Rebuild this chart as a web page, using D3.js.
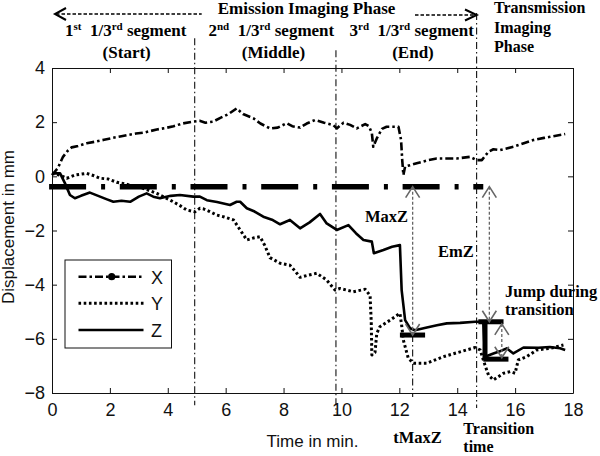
<!DOCTYPE html>
<html><head><meta charset="utf-8">
<script src="https://cdn.jsdelivr.net/npm/d3@7"></script>
<style>body{margin:0;background:#fff}svg{display:block}</style>
</head><body><svg id="c" width="600" height="456"></svg>
<script>
// ---- data (time in min, displacement in mm) ----
const seriesNames = ["X", "Y", "Z"];
const xSeries = [[0,0.05],[0.2,0.3],[0.38,0.72],[0.55,0.95],[0.68,1.07],[0.9,1.12],[1.2,1.22],[1.5,1.28],[1.8,1.35],[2.1,1.42],[2.4,1.48],[2.58,1.52],[2.9,1.58],[3.2,1.62],[3.62,1.73],[3.9,1.78],[4.2,1.85],[4.5,1.95],[4.88,2.02],[5.1,2.05],[5.3,1.98],[5.57,2.02],[5.8,2.15],[6.1,2.3],[6.38,2.51],[6.6,2.3],[6.96,2.14],[7.2,1.95],[7.53,1.77],[7.8,1.8],[8.11,1.96],[8.3,1.85],[8.57,1.8],[8.8,1.95],[9.09,2.08],[9.4,1.98],[9.72,1.89],[9.84,1.77],[10.07,1.98],[10.3,1.9],[10.53,1.77],[10.82,1.93],[10.95,1.85],[11.05,1.6],[11.1,1.09],[11.22,1.4],[11.4,1.75],[11.56,1.83],[11.97,1.83],[12.06,1.34],[12.1,0.6],[12.14,0.05],[12.2,0.36],[12.6,0.48],[13.0,0.6],[13.29,0.66],[13.98,0.66],[14.44,0.72],[14.67,0.6],[14.85,0.6],[15.08,0.91],[15.25,1.0],[15.48,0.97],[15.94,1.09],[16.3,1.22],[16.63,1.34],[17.0,1.42],[17.21,1.46],[17.73,1.56]];
const ySeries = [[0,0.11],[0.25,0.05],[0.51,-0.07],[0.8,0.05],[1.2,0.11],[1.45,0.02],[1.66,-0.07],[1.95,-0.1],[2.24,-0.22],[2.6,-0.3],[3.04,-0.4],[3.3,-0.5],[3.62,-0.63],[3.9,-0.78],[4.19,-0.94],[4.45,-1.1],[4.65,-1.24],[4.94,-1.31],[5.11,-1.18],[5.23,-1.2],[5.45,-1.3],[5.69,-1.43],[5.95,-1.5],[6.27,-1.61],[6.45,-1.9],[6.73,-2.35],[6.95,-2.28],[7.19,-2.23],[7.35,-2.55],[7.53,-3.0],[7.88,-3.21],[8.22,-3.28],[8.4,-3.5],[8.57,-3.73],[8.85,-3.65],[9.15,-3.58],[9.49,-3.83],[9.78,-4.2],[9.95,-4.14],[10.41,-4.26],[10.82,-4.17],[10.99,-4.4],[11.03,-5.4],[11.05,-6.6],[11.16,-6.5],[11.22,-5.8],[11.33,-5.55],[11.68,-5.31],[12.02,-5.06],[12.08,-5.5],[12.14,-6.05],[12.31,-6.72],[12.49,-6.9],[12.95,-6.9],[13.52,-6.66],[14.1,-6.48],[14.62,-6.32],[14.79,-6.41],[14.96,-6.97],[15.08,-7.34],[15.25,-7.52],[15.6,-7.27],[15.83,-7.21],[16.0,-7.27],[16.11,-6.78],[16.4,-6.66],[16.75,-6.41],[17.21,-6.35],[17.67,-6.23]];
const zSeries = [[0,0.11],[0.28,0.11],[0.45,-0.26],[0.62,-0.69],[0.79,-0.81],[1.0,-0.72],[1.31,-0.6],[1.66,-0.75],[1.9,-0.85],[2.12,-0.94],[2.4,-0.9],[2.7,-0.94],[3.0,-0.75],[3.27,-0.63],[3.5,-0.75],[3.73,-0.81],[4.1,-0.72],[4.42,-0.69],[4.88,-0.75],[5.11,-0.75],[5.35,-0.88],[5.7,-0.95],[6.15,-1.06],[6.38,-0.94],[6.5,-0.94],[6.73,-1.18],[7.0,-1.3],[7.3,-1.49],[7.6,-1.6],[7.88,-1.77],[8.22,-1.61],[8.57,-1.92],[8.9,-1.7],[9.26,-1.39],[9.49,-1.74],[9.84,-1.98],[10.24,-1.8],[10.5,-2.1],[10.76,-2.35],[11.05,-2.41],[11.12,-2.84],[11.45,-2.72],[11.75,-2.6],[12.02,-2.54],[12.08,-4.2],[12.2,-5.31],[12.37,-5.61],[12.54,-5.68],[12.95,-5.58],[13.3,-5.5],[13.64,-5.43],[14.1,-5.41],[14.62,-5.37],[14.9,-5.37],[14.96,-6.66],[15.25,-6.54],[15.5,-6.45],[15.71,-6.35],[15.94,-6.54],[16.29,-6.32],[16.8,-6.33],[17.2,-6.3],[17.55,-6.35],[17.73,-6.41]];
const xTicks = [0,2,4,6,8,10,12,14,16,18];
const yTicks = [-8,-6,-4,-2,0,2,4];
// reference level and markers
const refLevel = {value:-0.38, start:-0.1, end:14.9};
const thickSegs = [[12.02,-5.86,12.89,-5.86],[14.73,-5.37,15.6,-5.37],[14.96,-5.37,14.96,-6.75],[14.9,-6.75,15.77,-6.75]];
const phaseLines = [{t:4.93, top:5.1, bottom:-8.45},{t:9.81, top:4.66, bottom:-8.74},{t:14.67, top:6.03, bottom:-8.55},{t:12.46, top:-5.86, bottom:-8.15}];
const arrows = [{t:12.46, from:-0.38, to:-5.86},{t:15.11, from:-0.38, to:-5.37},{t:15.54, from:-5.45, to:-6.7}];

// ---- chart ----
const svg = d3.select("#c");
const x = d3.scaleLinear().domain([0,18]).range([52,573]);
const y = d3.scaleLinear().domain([-8,4]).range([393,68]);
const sans = "Liberation Sans, Arial, sans-serif";
const serif = "Liberation Serif, Times New Roman, serif";

// axes (box with inward ticks)
const gB = svg.append("g").attr("transform",`translate(0,${y(-8)})`)
  .call(d3.axisBottom(x).tickValues(xTicks).tickSizeInner(-5).tickSizeOuter(0).tickPadding(10));
const gL = svg.append("g").attr("transform",`translate(${x(0)},0)`)
  .call(d3.axisLeft(y).tickValues(yTicks).tickSizeInner(-5).tickSizeOuter(0).tickPadding(7));
const gT = svg.append("g").attr("transform",`translate(0,${y(4)})`)
  .call(d3.axisTop(x).tickValues(xTicks).tickSizeInner(-5).tickSizeOuter(0).tickFormat(""));
const gR = svg.append("g").attr("transform",`translate(${x(18)},0)`)
  .call(d3.axisRight(y).tickValues(yTicks).tickSizeInner(-5).tickSizeOuter(0).tickFormat(""));
[gB,gL,gT,gR].forEach(g=>{
  g.selectAll("path,line").attr("stroke","#111").attr("stroke-width",1);
  g.selectAll("text").attr("font-family",sans).attr("font-size",18).attr("fill","#111");
});

// axis titles
svg.append("text").attr("x",312.5).attr("y",446.5).attr("text-anchor","middle")
  .attr("font-family",sans).attr("font-size",17).attr("fill","#111").text("Time in min.");
svg.append("text").attr("transform","translate(14,227) rotate(-90)").attr("text-anchor","middle")
  .attr("font-family",sans).attr("font-size",17).attr("fill","#111").text("Displacement in mm");

// phase separator lines (thin dash-dot)
svg.append("g").selectAll("line").data(phaseLines).join("line")
  .attr("x1",d=>x(d.t)).attr("x2",d=>x(d.t)).attr("y1",d=>y(d.top)).attr("y2",d=>y(d.bottom))
  .attr("stroke","#111").attr("stroke-width",1.1).attr("stroke-dasharray","7,3,1.5,3");

// thick reference level
svg.append("line").attr("x1",x(refLevel.start)).attr("x2",x(refLevel.end))
  .attr("y1",y(refLevel.value)).attr("y2",y(refLevel.value))
  .attr("stroke","#000").attr("stroke-width",5.5).attr("stroke-dasharray","37,15,4,14.7");

// series lines
const line = d3.line().x(d=>x(d[0])).y(d=>y(d[1]));
const styles = {X:{dash:"8,3,2.5,3",w:2.6}, Y:{dash:"2.6,2.6",w:3}, Z:{dash:null,w:2.6}};
const seriesData = {X:xSeries, Y:ySeries, Z:zSeries};
seriesNames.forEach(n=>{
  svg.append("path").datum(seriesData[n]).attr("d",line).attr("fill","none")
    .attr("stroke","#000").attr("stroke-width",styles[n].w)
    .attr("stroke-dasharray",styles[n].dash).attr("stroke-linejoin","round");
});

// thick marker segments
svg.append("g").selectAll("line").data(thickSegs).join("line")
  .attr("x1",d=>x(d[0])).attr("y1",d=>y(d[1])).attr("x2",d=>x(d[2])).attr("y2",d=>y(d[3]))
  .attr("stroke","#000").attr("stroke-width",5);

// gray dashed arrows with open heads at both ends
const ag = svg.append("g").attr("stroke","#666").attr("fill","none");
arrows.forEach(a=>{
  const cx = x(a.t), y1 = y(a.from), y2 = y(a.to);
  ag.append("line").attr("x1",cx).attr("x2",cx).attr("y1",y1).attr("y2",y2)
    .attr("stroke-width",1.3).attr("stroke-dasharray","3,2");
  ag.append("path").attr("d",`M${cx-7},${y1+11}L${cx},${y1}L${cx+7},${y1+11}`).attr("stroke-width",1.6);
  ag.append("path").attr("d",`M${cx-7},${y2-11}L${cx},${y2}L${cx+7},${y2-11}`).attr("stroke-width",1.6);
});

// legend
const lg = svg.append("g");
lg.append("rect").attr("x",65).attr("y",260).attr("width",106.5).attr("height",88)
  .attr("fill","#fff").attr("stroke","#111").attr("stroke-width",1);
const legY = [276.7, 303.3, 330];
seriesNames.forEach((n,i)=>{
  lg.append("line").attr("x1",78.5).attr("x2",143.5).attr("y1",legY[i]).attr("y2",legY[i])
    .attr("stroke","#000").attr("stroke-width",styles[n].w).attr("stroke-dasharray",styles[n].dash);
  lg.append("text").attr("x",151).attr("y",legY[i]+7).attr("font-family",sans).attr("font-size",18)
    .attr("fill","#111").text(n);
});
lg.append("circle").attr("cx",111.7).attr("cy",legY[0]).attr("r",3.6).attr("fill","#000");

// header annotations
function bold(xp, yp, txt, size, anchor){
  return svg.append("text").attr("x",xp).attr("y",yp).attr("font-family",serif).attr("font-weight","bold")
    .attr("font-size",size||16.5).attr("text-anchor",anchor||"start").attr("fill","#000").text(txt);
}
bold(306.5,13.5,"Emission Imaging Phase",17,"middle");
function segLabel(xp, ord, sup){
  const t = svg.append("text").attr("x",xp).attr("y",35.5).attr("font-family",serif).attr("font-weight","bold")
    .attr("font-size",17).attr("fill","#000").style("white-space","pre");
  t.append("tspan").text(ord);
  t.append("tspan").attr("dy",-6).attr("font-size",11).text(sup);
  t.append("tspan").attr("dy",6).text("  1/3");
  t.append("tspan").attr("dy",-6).attr("font-size",11).text("rd");
  t.append("tspan").attr("dy",6).text(" segment");
}
segLabel(65,"1","st");
segLabel(208.5,"2","nd");
segLabel(349.5,"3","rd");
bold(126.7,57.5,"(Start)",17,"middle");
bold(273.5,57.5,"(Middle)",17,"middle");
bold(413,57.5,"(End)",17,"middle");
bold(494,13,"Transmission",16);
bold(494,32.5,"Imaging",16);
bold(494,52,"Phase",16);
// header arrows
const hg = svg.append("g").attr("stroke","#000").attr("fill","none");
hg.append("line").attr("x1",56).attr("x2",201.7).attr("y1",14).attr("y2",14).attr("stroke-width",1.5).attr("stroke-dasharray","3.5,2");
hg.append("path").attr("d","M66,8L55,14L66,20").attr("stroke-width",2);
hg.append("line").attr("x1",415).attr("x2",476).attr("y1",15).attr("y2",15).attr("stroke-width",1.5).attr("stroke-dasharray","3.5,2");
hg.append("path").attr("d","M465,9.5L476.7,15L465,20.5").attr("stroke-width",2);

// in-plot annotations
bold(365,221.5,"MaxZ");
bold(438,256.5,"EmZ");
bold(505,296.5,"Jump during");
bold(505,315,"transition");
bold(393.3,443.3,"tMaxZ");
bold(463.3,434,"Transition",16);
bold(463.3,452,"time",16);
</script></body></html>
